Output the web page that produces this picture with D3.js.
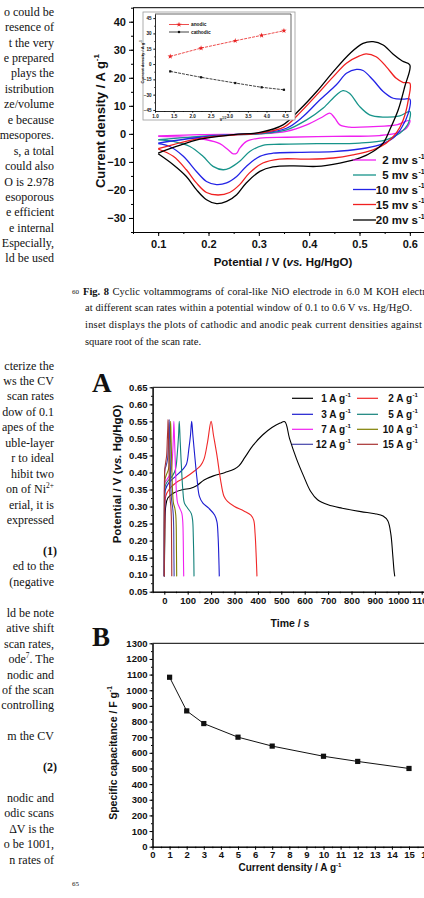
<!DOCTYPE html>
<html><head><meta charset="utf-8">
<script src="https://cdn.jsdelivr.net/npm/d3@7"></script>
<style>body{margin:0;background:#fff}svg{display:block}</style>
</head><body>
<svg id="c" width="424" height="898"></svg>
<script>
// ---------------- DATA ----------------
// Fig. 8 CV curves: [potential V, current density A/g], closed loops
const cvRates = ["2 mv s", "5 mv s", "10 mv s", "15 mv s", "20 mv s"];
const cv2 = [[0.1,-0.7],[0.183,-0.3],[0.302,0.0],[0.355,0.9],[0.395,3.2],[0.428,6.2],[0.441,7.4],[0.451,5.6],[0.461,3.2],[0.48,2.4],[0.527,2.6],[0.573,3.2],[0.6,4.8],
  [0.593,2.0],[0.573,0.25],[0.54,-0.6],[0.448,-0.9],[0.355,-1.2],[0.302,-1.5],[0.2755,-2.7],[0.262,-5.1],[0.256,-6.9],[0.249,-7.1],[0.239,-5.7],[0.2225,-3.5],[0.196,-2.1],[0.15,-1.2],[0.1,-0.9]];
const cv5 = [[0.1,-2.1],[0.183,-0.9],[0.25,-0.3],[0.302,0.0],[0.355,1.4],[0.395,5.0],[0.428,9.2],[0.454,13.9],[0.467,15.4],[0.48,14.5],[0.5,9.8],[0.52,6.8],[0.547,6.0],[0.58,6.4],[0.6,8.0],
  [0.597,3.8],[0.58,0.25],[0.553,-2.1],[0.5,-3.3],[0.415,-3.5],[0.341,-3.7],[0.308,-4.1],[0.282,-6.3],[0.262,-9.8],[0.242,-12.2],[0.229,-12.8],[0.209,-11.6],[0.189,-8.0],[0.163,-4.5],[0.13,-2.7],[0.1,-2.1]];
const cv10 = [[0.1,-3.3],[0.183,-1.2],[0.25,-0.3],[0.302,0.25],[0.355,2.0],[0.388,6.2],[0.421,12.1],[0.454,17.5],[0.474,21.6],[0.494,23.0],[0.507,22.6],[0.527,19.2],[0.547,15.1],[0.567,12.7],[0.587,12.4],[0.6,12.4],
  [0.597,7.4],[0.583,2.0],[0.567,-1.5],[0.54,-3.9],[0.5,-5.4],[0.448,-6.3],[0.381,-6.6],[0.328,-6.9],[0.302,-8.0],[0.275,-11.6],[0.256,-15.2],[0.236,-17.5],[0.216,-18.1],[0.196,-17.0],[0.176,-13.4],[0.15,-8.0],[0.123,-4.5],[0.1,-3.5]];
const cv15 = [[0.1,-5.3],[0.183,-1.6],[0.25,-0.4],[0.302,0.3],[0.35,2.4],[0.381,7.4],[0.415,13.9],[0.448,20.4],[0.474,25.2],[0.5,27.8],[0.513,28.5],[0.533,27.5],[0.553,24.0],[0.573,19.8],[0.587,18.3],[0.6,18.1],
  [0.597,12.1],[0.587,5.0],[0.573,0.25],[0.553,-3.3],[0.527,-5.7],[0.487,-7.5],[0.448,-8.6],[0.394,-9.0],[0.341,-9.0],[0.308,-10.4],[0.281,-14.0],[0.262,-18.1],[0.242,-20.9],[0.219,-21.8],[0.196,-20.9],[0.176,-17.5],[0.156,-12.8],[0.13,-8.0],[0.1,-5.4]];
const cv20 = [[0.1,-6.9],[0.136,-4.5],[0.183,-1.9],[0.25,-0.3],[0.302,0.5],[0.348,3.2],[0.381,8.6],[0.415,15.1],[0.448,22.2],[0.481,28.7],[0.507,32.3],[0.527,32.9],[0.547,31.7],[0.567,28.4],[0.585,26.0],[0.6,24.6],
  [0.59,16.9],[0.577,8.6],[0.56,1.4],[0.547,-3.3],[0.527,-6.3],[0.501,-8.6],[0.461,-10.4],[0.415,-11.6],[0.368,-11.4],[0.328,-11.8],[0.302,-13.4],[0.275,-17.5],[0.256,-21.7],[0.236,-24.1],[0.216,-24.9],[0.196,-23.5],[0.176,-19.9],[0.156,-15.2],[0.13,-11.0],[0.1,-7.1]];
const cvTicksX = [0.1, 0.2, 0.3, 0.4, 0.5, 0.6];
const cvTicksY = [-30, -20, -10, 0, 10, 20, 30, 40];

// Inset: square root of scan rate vs peak current density
const insetSqrtRate = [1.41, 2.24, 3.16, 3.87, 4.47];
const insetAnodic = [7.5, 15.6, 22.8, 28.1, 32.6];
const insetCathodic = [-7.2, -13.0, -18.6, -22.8, -25.2];
const insetTicksX = [1.0, 1.5, 2.0, 2.5, 3.0, 3.5, 4.0, 4.5];
const insetTicksY = [-45, -30, -15, 0, 15, 30, 45];

// Panel A: galvanostatic charge–discharge, [time s, potential V]
const gcdLabels = ["1 A g", "2 A g", "3 A g", "5 A g", "7 A g", "10 A g", "12 A g", "15 A g"];
const gcd1 = [[0,0.095],[2,0.2],[6,0.30],[15,0.325],[40,0.34],[80,0.35],[110,0.353],[140,0.362],[170,0.378],[210,0.39],[260,0.40],[300,0.41],[320,0.42],[345,0.445],[380,0.48],[420,0.51],[460,0.532],[495,0.545],[515,0.549],
  [535,0.50],[565,0.44],[595,0.39],[625,0.345],[655,0.32],[700,0.305],[760,0.295],[840,0.285],[900,0.279],[935,0.272],[955,0.258],[968,0.22],[976,0.16],[982,0.11],[985,0.095]];
const gcd2 = [[0,0.095],[2,0.25],[6,0.33],[20,0.35],[50,0.37],[90,0.385],[130,0.405],[155,0.42],[170,0.44],[185,0.49],[200,0.55],
  [210,0.51],[225,0.45],[240,0.38],[255,0.33],[270,0.315],[300,0.30],[340,0.287],[370,0.275],[382,0.26],[388,0.22],[393,0.15],[396,0.095]];
const gcd3 = [[0,0.095],[2,0.3],[5,0.35],[20,0.37],[50,0.39],[80,0.41],[95,0.425],[105,0.47],[112,0.51],[117,0.55],
  [122,0.51],[130,0.45],[140,0.38],[150,0.33],[165,0.31],[190,0.295],[215,0.275],[225,0.255],[230,0.21],[233,0.15],[235,0.095]];
const gcd5 = [[0,0.095],[1,0.3],[4,0.36],[15,0.375],[35,0.39],[48,0.41],[56,0.46],[61,0.51],[64,0.55],
  [68,0.49],[73,0.42],[79,0.35],[86,0.31],[100,0.295],[115,0.28],[121,0.26],[124,0.21],[126,0.15],[127,0.095]];
const gcd7 = [[0,0.095],[1,0.32],[3,0.37],[12,0.38],[25,0.395],[32,0.42],[36,0.46],[39,0.51],[41,0.55],
  [44,0.49],[48,0.41],[52,0.34],[57,0.31],[66,0.295],[75,0.28],[79,0.255],[81,0.2],[82,0.14],[83,0.095]];
const gcd10 = [[0,0.095],[1,0.35],[3,0.38],[10,0.395],[18,0.41],[22,0.44],[25,0.5],[27,0.55],
  [29,0.5],[32,0.42],[35,0.35],[39,0.31],[45,0.295],[49,0.275],[51,0.24],[52,0.17],[53,0.095]];
const gcd12 = [[0,0.095],[1,0.38],[3,0.41],[8,0.42],[14,0.44],[17,0.48],[19,0.52],[21,0.555],
  [23,0.5],[26,0.42],[28,0.36],[31,0.32],[35,0.3],[38,0.28],[40,0.24],[41,0.16],[42,0.095]];
const gcd15 = [[0,0.095],[0.8,0.38],[2,0.41],[6,0.43],[10,0.45],[13,0.5],[15,0.53],[16,0.555],
  [18,0.5],[20,0.43],[22,0.37],[25,0.32],[28,0.3],[30,0.27],[31,0.2],[32,0.095]];
const gcdTicksX = [0,100,200,300,400,500,600,700,800,900,1000,1100];
const gcdTicksY = [0.05,0.10,0.15,0.20,0.25,0.30,0.35,0.40,0.45,0.50,0.55,0.60,0.65];

// Panel B: specific capacitance vs current density
const capCurrent = [1, 2, 3, 5, 7, 10, 12, 15];
const capValue = [1083, 868, 787, 700, 643, 578, 545, 500];
const capTicksX = [0,1,2,3,4,5,6,7,8,9,10,11,12,13,14,15,16];
const capTicksY = [0,100,200,300,400,500,600,700,800,900,1000,1100,1200,1300];

// ---------------- STYLE ----------------
const cvColors = ["#f020f0", "#17948a", "#2323e6", "#f02020", "#000000"];
const gcdColors = ["#000000", "#f02828", "#1c1cd0", "#12807a", "#f020f0", "#7f7f00", "#4444aa", "#a83232"];
const serif = "'Liberation Serif','Times New Roman',serif";
const sans = "'Liberation Sans',Arial,sans-serif";

const svg = d3.select("#c");
svg.append("rect").attr("width", 424).attr("height", 898).attr("fill", "#fff");

function rich(sel, str, fs) {
  const re = /([\^\*#])\{([^}]*)\}/g;
  let last = 0, m, up = 0;
  const add = (t, kind) => {
    const ts = sel.append("tspan").text(t);
    if (kind === "^") { const d = fs * 0.42; ts.attr("dy", -d + up).attr("font-size", fs * 0.62); up = d; return; }
    if (up) { ts.attr("dy", up); up = 0; }
    if (kind === "*") ts.attr("font-style", "italic");
    if (kind === "#") ts.attr("font-weight", "bold");
  };
  while ((m = re.exec(str))) { if (m.index > last) add(str.slice(last, m.index), ""); add(m[2], m[1]); last = re.lastIndex; }
  if (last < str.length) add(str.slice(last), "");
  return sel;
}
function label(x, y, str, o) {
  const t = svg.append("text").attr("x", x).attr("y", y)
    .attr("font-family", o.family || sans).attr("font-size", o.fs)
    .attr("font-weight", o.bold ? "bold" : "normal")
    .attr("text-anchor", o.anchor || "start").attr("fill", "#111");
  if (o.rotate) t.attr("transform", `rotate(-90,${x},${y})`);
  return rich(t, str, o.fs);
}

// ---------------- LEFT TEXT COLUMN (page text, cut by the page edge as in the source) ----------------
const leftLines = [
 [12,"o could be"],[27,"resence of"],[43,"t the very"],[58,"e prepared"],[73,"plays the"],[89,"istribution"],[104,"ze/volume"],[120,"e because"],[135,"mesopores."],[151,"s, a total"],[166,"could also"],[182,"O is 2.978"],[197,"esoporous"],[212,"e efficient"],[228,"e internal"],[243,"Especially,"],[258,"ld be used"],
 [366,"cterize the"],[381,"ws the CV"],[396,"scan rates"],[412,"dow of 0.1"],[427,"apes of the"],[443,"uble-layer"],[458,"r to ideal"],[474,"hibit two"],[489,"on of Ni^{2+}"],[505,"erial, it is"],[520,"expressed"],
 [551,"#{(1)}"],[566,"ed to the"],[582,"(negative"],
 [613,"ld be note"],[628,"ative shift"],[644,"scan rates,"],[659,"ode^{7}. The"],[675,"nodic and"],[690,"of the scan"],[705,"controlling"],[736,"m the CV"],[767,"#{(2)}"],[798,"nodic and"],[813,"odic scans"],[829,"ΔV is the"],[844,"o be 1001,"],[860,"n rates of"]
];
leftLines.forEach(([cy, s]) => {
  label(s.startsWith("#") ? 57 : 54, cy + 4, s, {fs: 12, family: serif, anchor: "end"});
});
label(72, 294, "60", {fs: 7, family: serif});
label(72, 886, "65", {fs: 7, family: serif});

// Caption
label(83, 295, "#{Fig. 8} Cyclic voltammograms of coral-like NiO electrode in 6.0 M KOH electrolyte", {fs: 10.5, family: serif}).attr("word-spacing", 0.9);
label(85, 311, "at different scan rates within a potential window of 0.1 to 0.6 V vs. Hg/HgO.", {fs: 10.5, family: serif}).attr("textLength", 327).attr("lengthAdjust", "spacing");
label(85, 328, "inset displays the plots of cathodic and anodic peak current densities against", {fs: 10.5, family: serif}).attr("textLength", 337).attr("lengthAdjust", "spacing");
label(85, 345, "square root of the scan rate.", {fs: 10.5, family: serif});

// ---------------- AXES HELPER ----------------
function axes(g, x, y, o) {
  const y0 = y.range()[0], x0 = x.range()[0];
  const style = (sel) => {
    sel.select(".domain").attr("stroke", "#000").attr("stroke-width", 1);
    sel.selectAll(".tick line").attr("stroke", "#000").attr("stroke-width", 1);
    sel.selectAll("text").attr("font-family", sans).attr("font-weight", "bold").attr("font-size", o.fs).attr("fill", "#111");
  };
  g.append("g").attr("transform", `translate(0,${y0})`)
    .call(d3.axisBottom(x).tickValues(o.xMinor).tickSize(o.tick / 2).tickSizeOuter(0).tickFormat("")).call(style);
  g.append("g").attr("transform", `translate(0,${y0})`)
    .call(d3.axisBottom(x).tickValues(o.xMajor).tickSize(o.tick).tickSizeOuter(0).tickPadding(o.xPad).tickFormat(o.xFmt)).call(style);
  g.append("g").attr("transform", `translate(${x0},0)`)
    .call(d3.axisLeft(y).tickValues(o.yMinor).tickSize(o.tick / 2).tickSizeOuter(0).tickFormat("")).call(style);
  g.append("g").attr("transform", `translate(${x0},0)`)
    .call(d3.axisLeft(y).tickValues(o.yMajor).tickSize(o.tick).tickSizeOuter(0).tickPadding(o.yPad).tickFormat(o.yFmt)).call(style);
  g.append("line").attr("x1", x0).attr("x2", x.range()[1]).attr("y1", y.range()[1]).attr("y2", y.range()[1])
    .attr("stroke", "#000").attr("stroke-width", 1);
}
const range = (a, b, s) => d3.range(a, b + s / 2, s);

// ---------------- FIG 8 : CV ----------------
const cvX = d3.scaleLinear().domain([0.05, 0.65]).range([133, 435]);
const cvY = d3.scaleLinear().domain([-35, 45]).range([232, 7.7]);
const gCV = svg.append("g");
axes(gCV, cvX, cvY, {
  xMajor: cvTicksX, xMinor: range(0.05, 0.65, 0.05), yMajor: cvTicksY, yMinor: range(-35, 45, 5),
  xFmt: d3.format(".1f"), yFmt: d3.format("d"), fs: 11, tick: 4, xPad: 4, yPad: 3
});
const cvLine = d3.line().x(d => cvX(d[0])).y(d => cvY(d[1])).curve(d3.curveCatmullRom.alpha(0.5));
[cv2, cv5, cv10, cv15, cv20].forEach((s, i) => {
  gCV.append("path").attr("d", cvLine(s)).attr("fill", "none").attr("stroke", cvColors[i]).attr("stroke-width", 1.3);
});
// legend
const cvLegY = [160, 175, 189.5, 204.5, 220];
cvRates.forEach((r, i) => {
  gCV.append("line").attr("x1", 353).attr("x2", 376).attr("y1", cvLegY[i]).attr("y2", cvLegY[i])
    .attr("stroke", cvColors[i]).attr("stroke-width", 1.3);
  label(418, cvLegY[i] + 4, r, {fs: 11.5, bold: true, anchor: "end"});
  label(418.5, cvLegY[i] - 1.5, "-1", {fs: 7, bold: true});
});
label(100 + 4.5, 121, "Current density / A g^{-1}", {fs: 13, bold: true, anchor: "middle", rotate: true});
label(283, 266, "Potential / V (*{vs.} Hg/HgO)", {fs: 11.5, bold: true, anchor: "middle"});

// Inset
svg.append("rect").attr("x", 143).attr("y", 12).attr("width", 152).attr("height", 108)
  .attr("fill", "#fff").attr("stroke", "#999").attr("stroke-width", 0.8);
const inX = d3.scaleLinear().domain([1.0, 4.66]).range([155, 291]);
const inY = d3.scaleLinear().domain([-46, 49]).range([111, 14]);
const gIn = svg.append("g");
axes(gIn, inX, inY, {
  xMajor: insetTicksX, xMinor: range(1.0, 4.5, 0.25), yMajor: insetTicksY, yMinor: range(-45, 45, 7.5),
  xFmt: d3.format(".1f"), yFmt: d3.format("d"), fs: 4.6, tick: 2, xPad: 1.5, yPad: 1.5
});
gIn.selectAll("line").attr("stroke-width", 0.6);
gIn.selectAll(".domain").attr("stroke-width", 0.6);
gIn.append("line").attr("x1", 291).attr("x2", 291).attr("y1", 14).attr("y2", 111).attr("stroke", "#000").attr("stroke-width", 0.6);
const inLine = d3.line().x(d => inX(d[0])).y(d => inY(d[1]));
const anod = insetSqrtRate.map((v, i) => [v, insetAnodic[i]]);
const cath = insetSqrtRate.map((v, i) => [v, insetCathodic[i]]);
gIn.append("path").attr("d", inLine(anod)).attr("fill", "none").attr("stroke", "#e82020").attr("stroke-width", 0.8).attr("stroke-dasharray", "3,1");
gIn.append("path").attr("d", inLine(cath)).attr("fill", "none").attr("stroke", "#111").attr("stroke-width", 0.8).attr("stroke-dasharray", "3,1");
gIn.selectAll(".ma").data(anod).join("path").attr("transform", d => `translate(${inX(d[0])},${inY(d[1])})`)
  .attr("d", d3.symbol(d3.symbolStar, 9)).attr("fill", "#e82020");
gIn.selectAll(".mc").data(cath).join("path").attr("transform", d => `translate(${inX(d[0])},${inY(d[1])})`)
  .attr("d", d3.symbol(d3.symbolSquare, 5)).attr("fill", "#111");
[["anodic", "#e82020", 24.5], ["cathodic", "#111", 32]].forEach(([t, c, yy]) => {
  gIn.append("line").attr("x1", 169).attr("x2", 189).attr("y1", yy).attr("y2", yy).attr("stroke", c).attr("stroke-width", 0.8);
  gIn.append("path").attr("transform", `translate(179,${yy})`).attr("d", d3.symbol(t === "anodic" ? d3.symbolStar : d3.symbolSquare, t === "anodic" ? 9 : 5)).attr("fill", c);
  label(191, yy + 1.6, t, {fs: 4.8, bold: true});
});
label(143.5, 62, "Current density / A g^{-1}", {fs: 4.2, bold: true, anchor: "middle", rotate: true});
label(223, 121, "v^{1/2}", {fs: 4.5, bold: true, anchor: "middle"});

// ---------------- PANEL A ----------------
label(92, 392, "A", {fs: 27, family: serif, bold: true});
const aX = d3.scaleLinear().domain([-50, 1150]).range([152.6, 433.4]);
const aY = d3.scaleLinear().domain([0.05, 0.65]).range([591.7, 387.3]);
const gA = svg.append("g");
axes(gA, aX, aY, {
  xMajor: gcdTicksX, xMinor: range(-50, 1150, 50), yMajor: gcdTicksY, yMinor: range(0.05, 0.65, 0.025),
  xFmt: d3.format("d"), yFmt: d3.format(".2f"), fs: 9.5, tick: 3, xPad: 3, yPad: 2
});
const aLine = d3.line().x(d => aX(d[0])).y(d => aY(d[1])).curve(d3.curveCatmullRom.alpha(0.5));
[gcd1, gcd2, gcd3, gcd5, gcd7, gcd10, gcd12, gcd15].forEach((s, i) => {
  gA.append("path").attr("d", aLine(s))
    .attr("fill", "none").attr("stroke", gcdColors[i]).attr("stroke-width", 1.1);
});
const aLegRows = [398.3, 414.3, 429.3, 444.3];
gcdLabels.forEach((l, i) => {
  const col = i % 2, row = Math.floor(i / 2);
  const lx = col === 0 ? 292 : 357, tx = col === 0 ? 345 : 412;
  gA.append("line").attr("x1", lx).attr("x2", lx + 21).attr("y1", aLegRows[row]).attr("y2", aLegRows[row])
    .attr("stroke", gcdColors[i]).attr("stroke-width", 1.2);
  label(tx, aLegRows[row] + 3.5, l, {fs: 10, bold: true, anchor: "end"});
  label(tx + 0.5, aLegRows[row] - 1.8, "-1", {fs: 6, bold: true});
});
label(121, 474, "Potential / V (*{vs.} Hg/HgO)", {fs: 11.5, bold: true, anchor: "middle", rotate: true});
label(290, 627, "Time / s", {fs: 10.5, bold: true, anchor: "middle"});

// ---------------- PANEL B ----------------
label(92, 646, "B", {fs: 27, family: serif, bold: true});
const bX = d3.scaleLinear().domain([0, 16]).range([152.5, 426.1]);
const bY = d3.scaleLinear().domain([0, 1300]).range([846.7, 643.3]);
const gB = svg.append("g");
axes(gB, bX, bY, {
  xMajor: capTicksX, xMinor: range(0, 16, 0.5), yMajor: capTicksY, yMinor: range(0, 1300, 50),
  xFmt: d3.format("d"), yFmt: d3.format("d"), fs: 9.5, tick: 3, xPad: 2, yPad: 2
});
const capPts = capCurrent.map((c, i) => [c, capValue[i]]);
gB.append("path").attr("d", d3.line().x(d => bX(d[0])).y(d => bY(d[1]))(capPts))
  .attr("fill", "none").attr("stroke", "#111").attr("stroke-width", 1);
gB.selectAll(".sq").data(capPts).join("rect")
  .attr("x", d => bX(d[0]) - 2.6).attr("y", d => bY(d[1]) - 2.6).attr("width", 5.2).attr("height", 5.2).attr("fill", "#111");
label(116.5, 753, "Specific capacitance / F g^{-1}", {fs: 10.5, bold: true, anchor: "middle", rotate: true});
label(290, 871, "Current density / A g^{-1}", {fs: 10, bold: true, anchor: "middle"});
</script>
</body></html>
